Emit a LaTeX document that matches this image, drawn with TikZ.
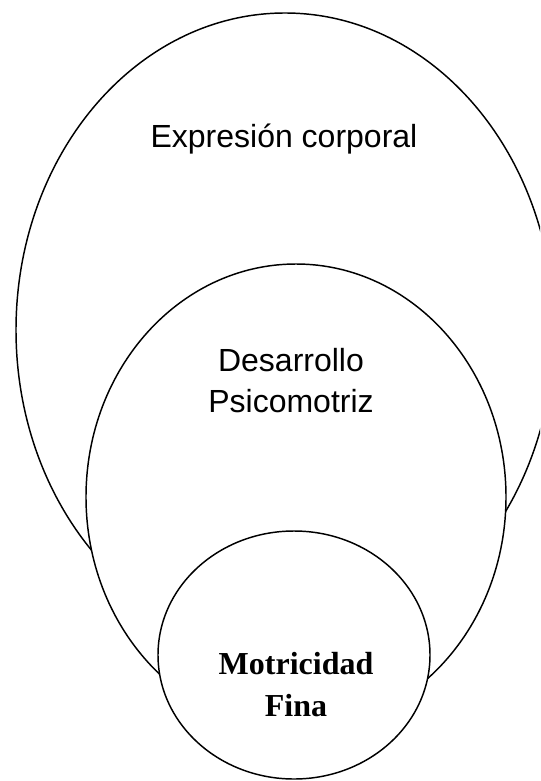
\documentclass[tikz,border=0pt]{standalone}
\usepackage{fontspec}
\usepackage{tikz}
\usetikzlibrary{shapes.geometric}
\newfontfamily\arialfont{Liberation Sans}
\newfontfamily\timesfont{Liberation Serif}

\begin{document}
\begin{tikzpicture}[x=0.75pt, y=-0.75pt,
  ring/.style={ellipse, draw=black, line width=1.1pt, fill=white, inner sep=0pt},
  sanslbl/.style={anchor=base, inner sep=0pt, font=\arialfont\fontsize{24}{31}\selectfont},
  seriflbl/.style={anchor=base, inner sep=0pt, font=\timesfont\bfseries\fontsize{24}{31}\selectfont}]
  \useasboundingbox (0,0) rectangle (540,781);
  \clip (0,0) rectangle (540,781);

  \node (expr) [ring, minimum width=403.5pt, minimum height=475.5pt] at (285,330) {};
  \node (desa) [ring, minimum width=315pt, minimum height=349.5pt] at (296,497) {};
  \node (moti) [ring, minimum width=204pt, minimum height=186pt] at (294,655) {};

  \node (exprtxt) [sanslbl] at (284,147) {Expresión corporal};
  \node (desatxt1) [sanslbl] at (291,371) {Desarrollo};
  \node (desatxt2) [sanslbl] at (291,412) {Psicomotriz};
  \node (motitxt1) [seriflbl] at (296,674) {Motricidad};
  \node (motitxt2) [seriflbl] at (296,716) {Fina};
\end{tikzpicture}
\end{document}
